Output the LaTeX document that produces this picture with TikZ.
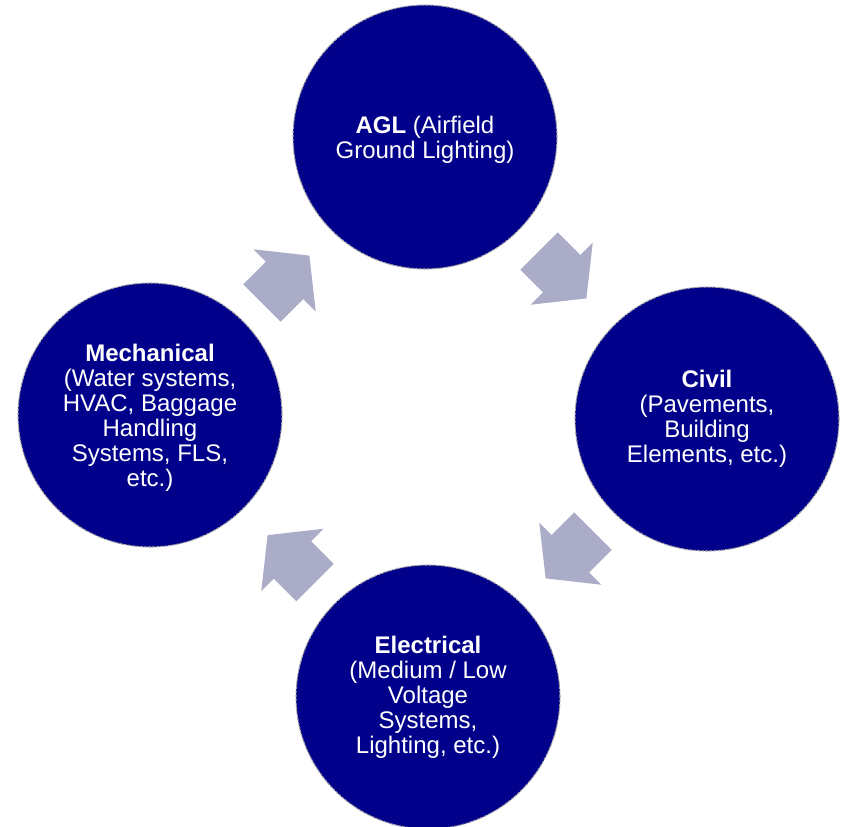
\documentclass[tikz,border=0pt]{standalone}
\usepackage{fontspec}
\setmainfont{Liberation Sans}
\definecolor{navyfill}{RGB}{0,0,138}
\definecolor{arrowfill}{RGB}{170,172,200}
\definecolor{rimgrey}{RGB}{168,168,168}
\begin{document}
\begin{tikzpicture}[x=0.75pt,y=-0.75pt,
  topic/.style={circle, minimum size=198pt, inner sep=0pt, fill=navyfill,
    draw=rimgrey, line width=0.8pt, dash pattern=on 2.2pt off 0.8pt,
    text=white, align=center, font=\fontsize{18}{18.7}\selectfont},
  lowtext/.style={text depth=0pt},
  cyclearrow/.style={fill=arrowfill, draw=none}]
\useasboundingbox (0,0) rectangle (848,826);
\node[topic, lowtext] (agl) at (425,137) {\textbf{AGL} (Airfield\\Ground Lighting)};
\node[topic] (civil) at (707,419) {\textbf{Civil}\\(Pavements,\\Building\\Elements, etc.)};
\node[topic] (elec) at (428,697) {\textbf{Electrical}\\(Medium / Low\\Voltage\\Systems,\\Lighting, etc.)};
\node[topic, lowtext] (mech) at (150,415) {\textbf{Mechanical}\\(Water systems,\\HVAC, Baggage\\Handling\\Systems, FLS,\\etc.)};
\foreach \px/\py/\ang in {262/303/45, 539/251/-45, 593/531/-135, 315/582.5/135}{
  \begin{scope}[shift={(\px,\py)}, rotate=\ang]
    \fill[cyclearrow] (0,-26.5) -- (32,-26.5) -- (32,-44) -- (67,0) -- (32,44) -- (32,26.5) -- (0,26.5) -- cycle;
  \end{scope}
}
\end{tikzpicture}
\end{document}
